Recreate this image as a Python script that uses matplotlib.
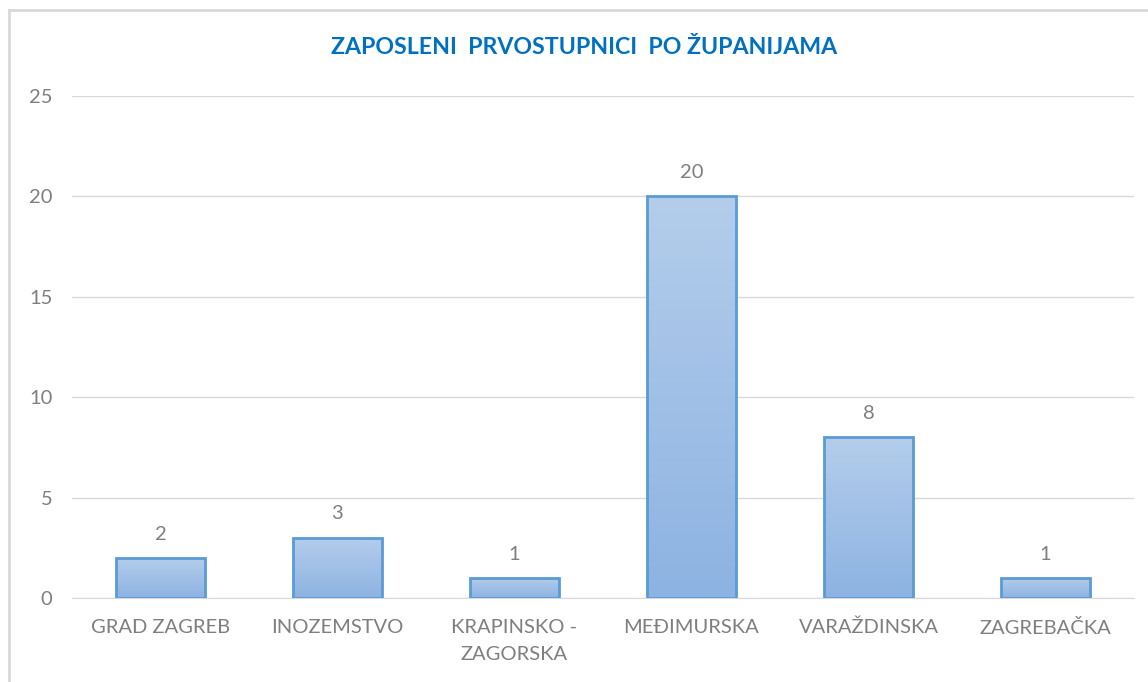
import numpy as np
import matplotlib
matplotlib.use("Agg")
import matplotlib.pyplot as plt
from matplotlib.lines import Line2D

plt.rcParams['font.family'] = ['Lato', 'DejaVu Sans']

# podaci
zupanije = ["GRAD ZAGREB", "INOZEMSTVO", "KRAPINSKO -\nZAGORSKA",
            "MEĐIMURSKA", "VARAŽDINSKA", "ZAGREBAČKA"]
zaposleni = [2, 3, 1, 20, 8, 1]
y_ticks = [0, 5, 10, 15, 20, 25]

fig = plt.figure(figsize=(11.48, 6.82), dpi=100)
ax = fig.add_axes([0.0627, 0.1232, 0.9251, 0.736])

x = np.arange(len(zupanije))
bars = ax.bar(x, zaposleni, width=0.5, color='none', edgecolor='#5b9bd5',
              linewidth=2, zorder=3)

# gradijent u stupcima (svjetlije gore, tamnije dolje)
grad = np.linspace(0, 1, 256).reshape(-1, 1)
cmap = matplotlib.colors.LinearSegmentedColormap.from_list(
    'g', ['#8db3e2', '#b4cdeb'])
for b in bars:
    x0, y0 = b.get_x(), b.get_y()
    w, h = b.get_width(), b.get_height()
    im = ax.imshow(grad, extent=(x0, x0 + w, y0, y0 + h), origin='lower',
                   cmap=cmap, aspect='auto', zorder=2)
    im.set_clip_path(b)

for xi, v in zip(x, zaposleni):
    ax.annotate(str(v), (xi, v), xytext=(0, 11), textcoords='offset points',
                ha='center', va='bottom', fontsize=14.5, color='#7f7f7f')

ax.set_xlim(-0.5, len(zupanije) - 0.5)
ax.set_ylim(0, 25)
ax.set_yticks(y_ticks)
ax.set_xticks(x)
ax.set_xticklabels(zupanije, fontsize=14.5, color='#7f7f7f', linespacing=1.75)
ax.tick_params(axis='y', labelsize=14.5, labelcolor='#7f7f7f', length=0, pad=14)
ax.tick_params(axis='x', length=0, pad=15)
ax.grid(axis='y', color='#d9d9d9', linewidth=1, zorder=0)
for s in ['top', 'right', 'left']:
    ax.spines[s].set_visible(False)
ax.spines['bottom'].set_color('#d9d9d9')
ax.spines['bottom'].set_zorder(1)

fig.text(584 / 1148, 1 - 47 / 682, "ZAPOSLENI  PRVOSTUPNICI  PO ŽUPANIJAMA",
         fontsize=16.7, fontweight='bold', color='#0070c0',
         ha='center', va='center')

# okvir grafikona
fig.add_artist(Line2D([9 / 1148, 9 / 1148], [0, 1 - 10 / 682],
                      color='#d9d9d9', linewidth=2, transform=fig.transFigure))
fig.add_artist(Line2D([9 / 1148, 1], [1 - 10 / 682, 1 - 10 / 682],
                      color='#d9d9d9', linewidth=2, transform=fig.transFigure))

fig.savefig('out.png', dpi=100)
